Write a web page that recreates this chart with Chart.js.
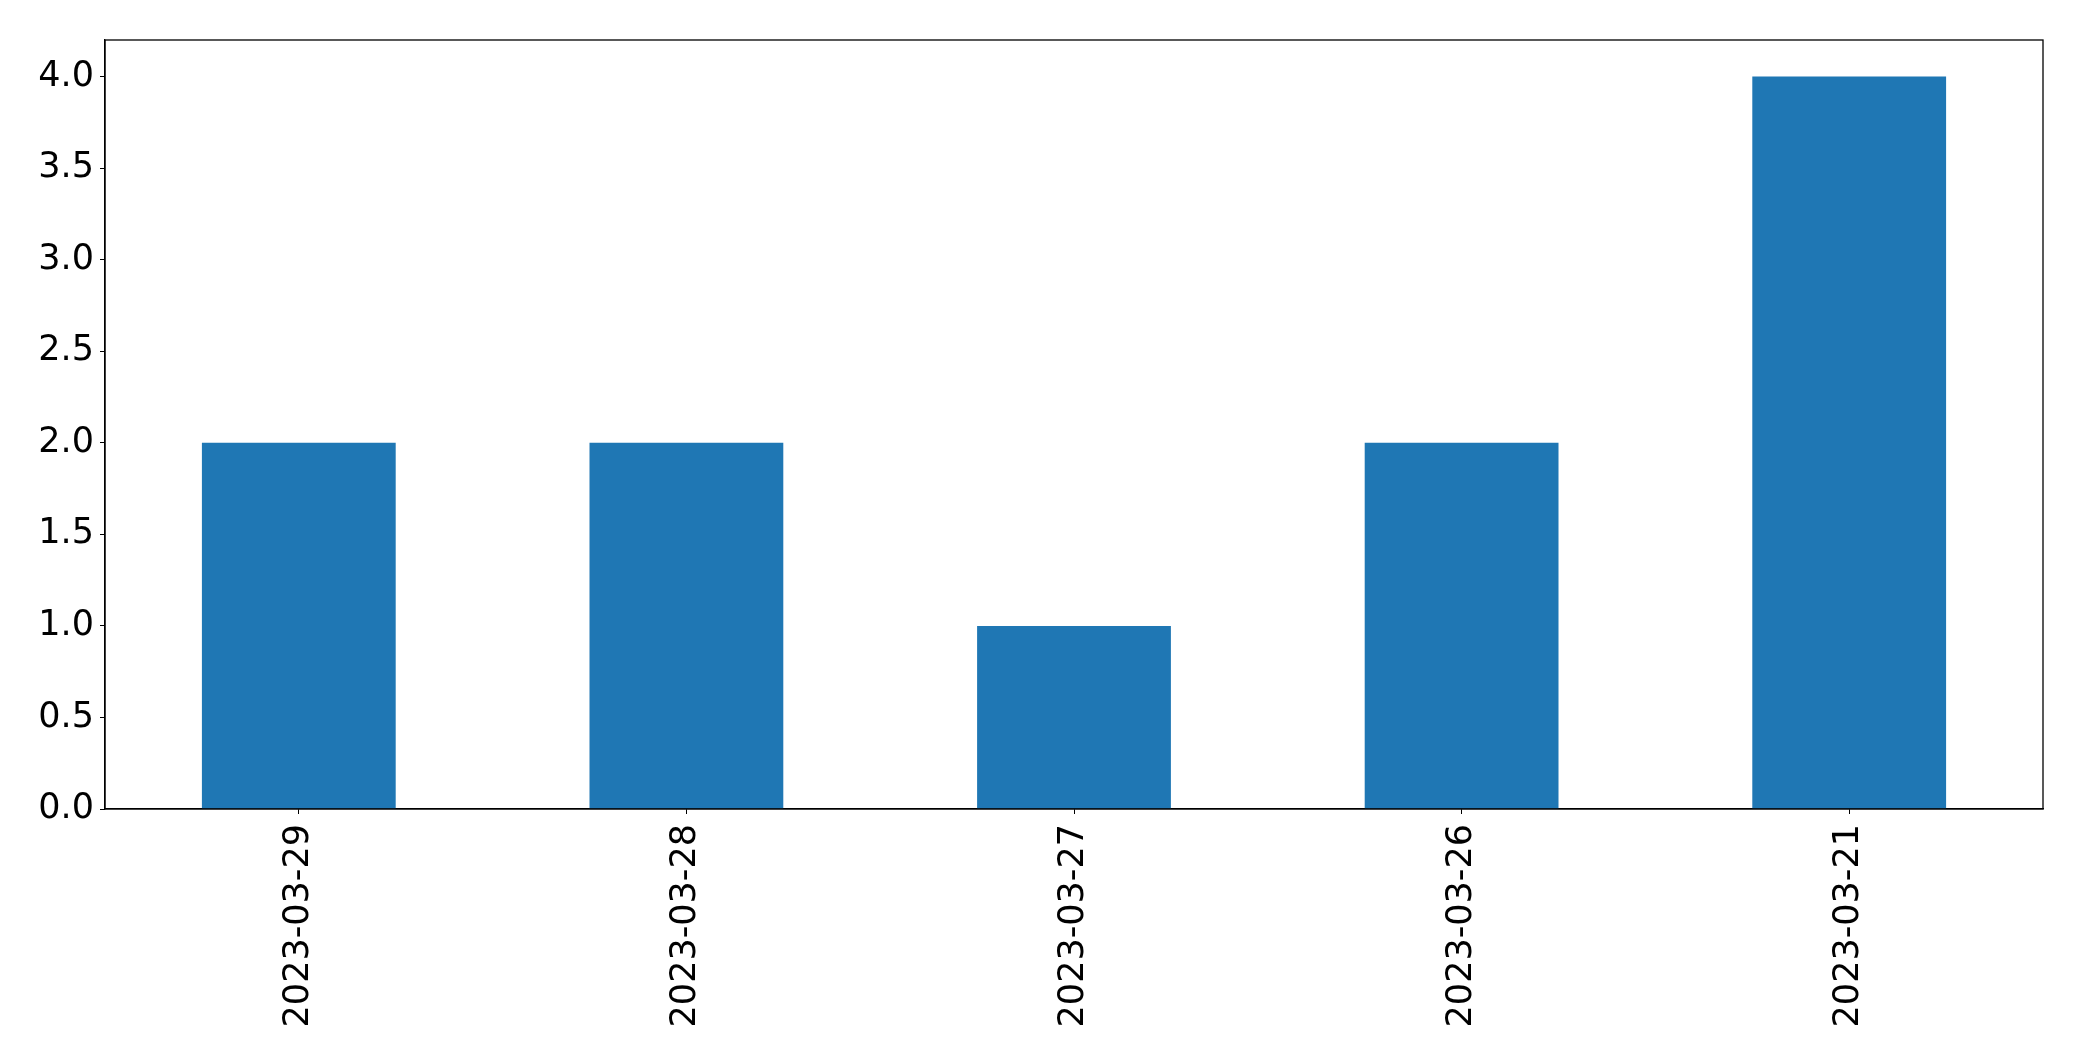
<!DOCTYPE html>
<html>
<head>
<meta charset="utf-8">
<script src="https://cdn.jsdelivr.net/npm/chart.js@4/dist/chart.umd.min.js"></script>
<style>
  html, body { margin: 0; padding: 0; background: #fff; }
  canvas { display: block; }
</style>
</head>
<body>
<canvas id="barChart" width="2082" height="1061"></canvas>
<script>
const dates = ["2023-03-29", "2023-03-28", "2023-03-27", "2023-03-26", "2023-03-21"];
const counts = [2, 2, 1, 2, 4];
const yTicks = [0, 0.5, 1.0, 1.5, 2.0, 2.5, 3.0, 3.5, 4.0];
const yMax = 4.2;

// marco completo alrededor del area del grafico (como matplotlib)
const framePlugin = {
  id: "frame",
  afterDraw: (chart) => {
    const { ctx, chartArea } = chart;
    ctx.save();
    ctx.strokeStyle = "#000";
    ctx.lineWidth = 1.3;
    ctx.strokeRect(chartArea.left, chartArea.top, chartArea.right - chartArea.left, chartArea.bottom - chartArea.top);
    ctx.restore();
  },
};

const ctx = document.getElementById("barChart").getContext("2d");
new Chart(ctx, {
  type: "bar",
  data: {
    labels: dates,
    datasets: [
      {
        data: counts,
        backgroundColor: "#1f77b4",
        borderWidth: 0,
        barPercentage: 0.5,
        categoryPercentage: 1.0,
      },
    ],
  },
  options: {
    responsive: false,
    animation: false,
    layout: {
      padding: { top: 40, right: 39, left: 0, bottom: 0 },
    },
    plugins: {
      legend: { display: false },
      tooltip: { enabled: false },
    },
    scales: {
      x: {
        grid: { display: true, offset: false, drawOnChartArea: false, tickLength: 5, color: "#000" },
        border: { display: true, color: "#000", width: 1.3 },
        ticks: {
          color: "#000",
          font: { family: "DejaVu Sans", size: 35 },
          minRotation: 90,
          maxRotation: 90,
          padding: 10,
        },
        afterFit: (scale) => {
          scale.height = 252;
        },
      },
      y: {
        min: 0,
        max: yMax,
        grid: { display: true, drawOnChartArea: false, tickLength: 5, color: "#000" },
        border: { display: true, color: "#000", width: 1.3 },
        ticks: {
          color: "#000",
          font: { family: "DejaVu Sans", size: 35 },
          padding: 6,
          callback: (value) => Number(value).toFixed(1),
        },
        afterBuildTicks: (scale) => {
          scale.ticks = yTicks.map((v) => ({ value: v }));
        },
        afterFit: (scale) => {
          scale.width = 105;
        },
      },
    },
  },
  plugins: [framePlugin],
});
</script>
</body>
</html>
